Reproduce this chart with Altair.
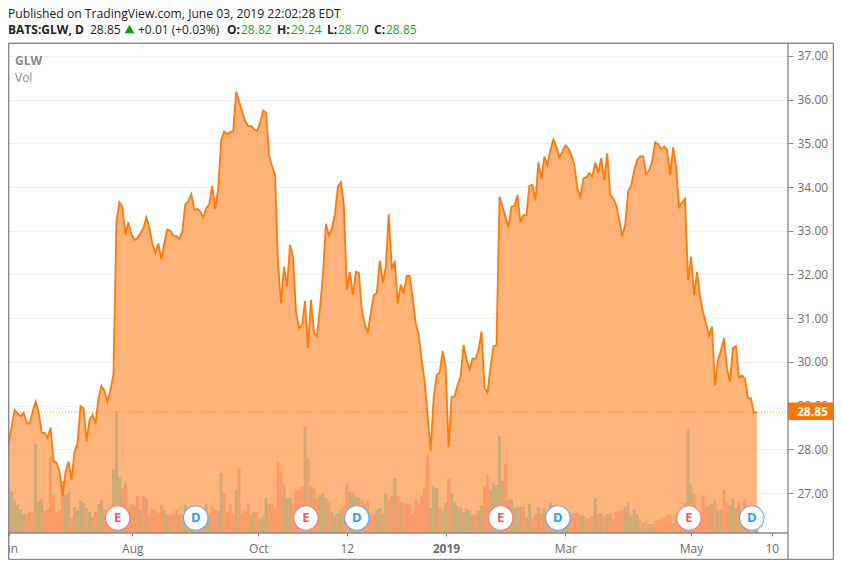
import json
import altair as alt
import pandas as pd

price = [
    27.72,28.14,28.52,28.90,28.82,28.75,28.84,28.61,28.59,28.86,
    29.09,28.86,28.38,28.37,28.27,28.50,27.73,27.69,27.49,26.92,
    27.49,27.72,27.30,27.95,28.14,28.99,28.94,28.19,28.67,28.79,
    28.59,29.17,29.45,29.34,29.09,29.36,29.70,33.21,33.65,33.55,
    32.92,33.19,32.92,32.79,32.83,32.94,33.06,33.31,33.07,32.71,
    32.50,32.71,32.35,32.71,33.03,33.00,32.89,32.88,32.81,32.98,
    33.61,33.67,33.84,33.48,33.50,33.44,33.31,33.51,33.61,34.03,
    33.50,33.97,35.08,35.27,35.21,35.26,35.27,36.18,35.95,35.73,
    35.52,35.40,35.40,35.32,35.28,35.47,35.75,35.70,34.73,34.48,
    34.26,32.25,31.34,32.18,31.72,32.68,32.41,31.15,30.78,30.83,
    31.39,30.31,31.42,30.68,30.58,31.23,31.99,33.16,32.90,33.06,
    33.38,34.01,34.11,33.59,31.65,32.06,31.53,32.06,32.04,31.19,
    30.84,30.69,31.11,31.53,31.57,32.31,31.82,32.18,33.38,32.14,
    32.28,31.34,31.77,31.57,31.97,31.97,31.46,30.88,30.62,30.04,
    29.55,28.75,27.97,29.17,29.70,29.75,30.25,29.89,28.05,29.19,
    29.21,29.47,29.66,30.39,30.04,29.83,30.08,30.07,30.27,30.69,
    29.40,29.30,29.89,30.36,30.38,33.78,33.55,33.32,33.08,33.55,
    33.57,33.82,33.19,33.36,33.36,34.03,34.05,33.69,34.57,34.19,
    34.70,34.51,34.85,35.09,34.93,34.68,34.81,34.95,34.89,34.73,
    34.51,33.97,33.78,34.20,34.22,34.32,34.24,34.56,34.33,34.66,
    34.16,34.77,33.82,33.74,33.59,33.25,32.88,33.13,33.91,34.03,
    34.38,34.62,34.70,34.70,34.30,34.38,34.58,35.02,34.98,34.87,
    34.93,34.85,34.28,34.91,34.47,33.55,33.65,33.74,31.87,32.41,
    31.53,32.06,31.49,31.15,30.88,30.60,30.81,29.47,30.04,30.27,
    30.54,29.85,29.55,30.31,30.36,29.64,29.69,29.62,29.18,29.17,28.84,28.85,
]
volume = [
    6.0,6.33,8.33,6.67,5.67,4.8,3.8,3.73,4.13,4.33,
    17.8,6.33,6.8,4.47,4.67,15.2,7.6,4.27,4.47,10.33,
    7.67,8.2,3.0,5.2,4.53,6.4,6.0,5.0,4.2,3.2,
    4.2,5.8,6.53,4.67,4.33,4.0,12.8,24.33,11.2,8.87,
    10.0,5.0,5.8,5.47,7.4,4.8,7.4,7.0,3.67,4.67,
    4.67,4.0,5.6,4.53,3.67,3.67,3.8,4.67,3.8,3.67,
    5.67,4.8,4.0,4.0,3.67,4.0,4.0,5.8,3.67,5.33,
    4.67,4.53,12.0,8.0,4.2,5.87,3.67,8.67,13.0,3.8,
    4.53,5.8,3.67,4.2,4.2,3.0,3.33,7.0,5.87,5.87,
    4.67,14.33,12.2,9.67,7.0,7.0,6.0,8.47,8.6,9.2,
    21.2,15.0,9.33,9.0,7.13,7.67,8.0,7.0,6.2,4.2,
    3.53,4.0,4.67,5.33,10.0,8.33,8.13,7.47,7.2,6.67,
    5.87,6.47,3.67,3.67,4.67,5.0,4.0,8.0,6.67,7.47,
    11.0,7.47,6.33,6.0,5.8,5.67,3.8,6.8,5.67,7.53,
    9.0,15.67,5.0,9.47,8.93,5.0,4.33,6.0,10.87,8.0,
    6.2,5.47,5.2,4.2,4.8,4.53,3.67,3.53,4.47,5.47,
    9.33,11.6,8.67,10.0,9.6,19.47,10.47,13.8,6.67,6.8,
    5.0,5.13,5.2,5.2,3.0,5.8,3.0,3.67,5.2,4.0,
    5.0,4.0,6.0,3.8,4.0,4.5,3.5,3.5,4.0,3.8,
    4.0,4.0,3.47,3.47,2.8,3.0,3.47,7.0,3.87,4.0,
    3.47,3.8,4.0,2.8,4.2,4.33,4.67,5.33,6.2,3.47,
    4.8,3.8,2.67,2.13,2.33,1.8,1.8,2.47,2.67,2.67,
    3.0,3.53,3.67,2.0,3.67,3.67,4.67,6.0,21.0,9.67,
    8.0,3.0,3.0,7.53,5.33,5.47,5.87,6.53,4.53,4.8,
    8.8,6.0,5.6,6.8,5.0,6.0,3.67,6.8,5.0,4.33,4.0,0.67,
]
direction = (
    "UUUUUUUDDD" "UUUDDDDDDD" "UUDUUUUDUU" "DUUDDDUUUD" "DDDUDUDUDD"
    "DDDUUDDDUD" "UDDUDDDUUD" "DUUDDDDUDD" "DDUUDUUUDD" "DDDUUUDDDD"
    "UDUDDUUUDU" "UUUDDUUUUD" "UDDDUUDUDD" "UDUDDDDDDD" "DDUUUDUUDU"
    "UUUUUUUDUU" "DDUUUUUDDU" "UUUDUUDDUD" "UDUDUDUUUD" "DDUUDDDUDU"
    "DUDDDDDUUU" "UUDUDUUDDD" "DDDUDDDUUU" "DDDDDDUDUU" "DDUUUDUDDDDU"
)
tick_positions = [1, 42.3, 84.4, 114, 147.1, 187, 229, 256]
tick_labels = ["Jun", "Aug", "Oct", "12", "2019", "Mar", "May", "10"]
price_ticks = [27, 28, 29, 30, 31, 32, 33, 34, 35, 36, 37]
earnings_days = [37.4, 100.3, 165.4, 228.3]
dividend_days = [63.5, 117.3, 184.5, 249.3]
last_close = 28.85

df = pd.DataFrame({"day": range(len(price)), "price": price, "volume": volume, "dir": list(direction)})
assert len(price) == len(volume) == len(direction)

W, H = 780, 490
x_scale = alt.Scale(domain=[0.768, 261.4], nice=False, zero=False, padding=0)
y_scale = alt.Scale(domain=[26.085, 37.297], nice=False, zero=False)
v_scale = alt.Scale(domain=[0, 98], nice=False, zero=False)

expr = f"{json.dumps(tick_labels)}[indexof({json.dumps(tick_positions)}, datum.value)]"
x_axis = alt.Axis(
    values=tick_positions, labelExpr=expr, title=None, grid=False, domain=False,
    tickColor="#8a8a8a", tickSize=3, labelColor="#6e6e6e", labelFont="Open Sans", labelFontSize=12,
    labelPadding=7, labelOverlap=False, labelBound=False, labelFlush=False, labelAngle=0,
    labelFontWeight={"condition": {"test": "datum.value == 147.1", "value": "bold"}, "value": "normal"},
)
y_axis = alt.Axis(
    values=price_ticks, format=".2f", orient="right", title=None, domain=False, grid=True,
    gridColor="#E9F1F8", gridWidth=1, tickColor="#8a8a8a", tickSize=5, labelColor="#6e6e6e",
    labelFont="Open Sans", labelFontSize=12, labelPadding=4, labelOverlap=False,
)
X = alt.X("day:Q", scale=x_scale, axis=x_axis)
base = alt.Chart(df)

area = base.mark_area(
    color=alt.Gradient(
        gradient="linear", x1=1, x2=1, y1=0, y2=1,
        stops=[alt.GradientStop(color="rgba(255,165,95,0.85)", offset=0),
               alt.GradientStop(color="rgba(255,178,120,0.85)", offset=1)],
    ),
    interpolate="linear", clip=True,
).encode(x=X, y=alt.Y("price:Q", scale=y_scale, axis=y_axis), y2=alt.value(H))

bars = base.mark_bar(size=3, clip=True).encode(
    x=X,
    y=alt.Y("volume:Q", scale=v_scale, axis=None),
    y2=alt.value(H),
    color=alt.Color("dir:N", scale=alt.Scale(domain=["U", "D"], range=["#CDAB76", "#FC9A69"]), legend=None),
)
line = base.mark_line(color="#FF7A0A", strokeWidth=1.8, interpolate="linear", clip=True).encode(
    x=X,
    y=alt.Y("price:Q", scale=y_scale, axis=None),
)

one = alt.Chart(pd.DataFrame({"close": [last_close]}))
last_rule = one.mark_rule(color="#FF7A0A", strokeDash=[1, 2], strokeWidth=1, opacity=0.75).encode(
    y=alt.Y("close:Q", scale=y_scale, axis=None), x=alt.value(0), x2=alt.value(W)
)

def circles(days, stroke):
    return alt.Chart(pd.DataFrame({"day": days})).mark_circle(
        size=600, fill="white", stroke=stroke, strokeWidth=1.2, opacity=1
    ).encode(x=X, y=alt.value(475))

def letters(days, letter, color):
    return alt.Chart(pd.DataFrame({"day": days})).mark_text(
        text=letter, color=color, fontSize=13, font="Open Sans", fontWeight="bold", baseline="middle"
    ).encode(x=X, y=alt.value(475))

empty = alt.Chart(pd.DataFrame({"a": [0]}))

def label(text, px, py, color="#222222", weight="normal", size=12, font="Open Sans"):
    return empty.mark_text(
        text=text, color=color, fontWeight=weight, fontSize=size, font=font, align="left", baseline="alphabetic"
    ).encode(x=alt.value(px - 8), y=alt.value(py - 43))

def rule(x1, x2, y1, y2, color="#8a8a8a", w=1.4):
    return empty.mark_rule(color=color, strokeWidth=w).encode(
        x=alt.value(x1 - 8), x2=alt.value(x2 - 8), y=alt.value(y1 - 43), y2=alt.value(y2 - 43)
    )

GREEN = "#1BA81B"
texts = [
    label("Published on TradingView.com, June 03, 2019 22:02:28 EDT", 8, 18, size=12.15),
    label("BATS:GLW, D", 8, 34, weight="bold"),
    label("28.85", 90, 34),
    label("+0.01 (+0.03%)", 138, 34),
    label("O:", 227, 34, weight="bold"),
    label("28.82", 241, 34, color=GREEN),
    label("H:", 277, 34, weight="bold"),
    label("29.24", 291, 34, color=GREEN),
    label("L:", 327, 34, weight="bold"),
    label("28.70", 338, 34, color=GREEN),
    label("C:", 374, 34, weight="bold"),
    label("28.85", 386, 34, color=GREEN),
    label("GLW", 15, 65, color="#8a8a8a", weight="bold", size=12),
    label("Vol", 15, 82, color="#8a8a8a", size=12),
]
triangle = empty.mark_point(shape="triangle-up", filled=True, color="#0B9E0B", size=95, opacity=1).encode(
    x=alt.value(129.5 - 8), y=alt.value(29 - 43)
)
price_box = empty.mark_rect(color="#FF7500").encode(
    x=alt.value(788 - 8), x2=alt.value(833.5 - 8), y=alt.value(402.5 - 43), y2=alt.value(420 - 43)
)
price_text = label("28.85", 797, 416, color="white", weight="bold", size=12)

frame = [
    rule(8.7, 833.4, 43.3, 43.3), rule(8.7, 833.4, 559.4, 559.4),
    rule(8.7, 8.7, 43.3, 559.4), rule(833.4, 833.4, 43.3, 559.4),
    rule(788, 788, 43.3, 559.4), rule(8.7, 788, 533, 533),
]

chart = alt.layer(
    area, bars, line, last_rule,
    circles(earnings_days, "#F07B84"), circles(dividend_days, "#5AB2F2"),
    letters(earnings_days, "E", "#EE5A68"), letters(dividend_days, "D", "#2C9CEF"),
    price_box, price_text, *frame, *texts, triangle,
).resolve_scale(y="independent", color="independent").properties(
    width=W, height=H,
    autosize=alt.AutoSizeParams(type="none"),
    padding={"left": 0, "top": 35, "right": 46, "bottom": 27},
    background="white",
).configure_view(stroke=None)

chart.save("out.html", embed_options={"renderer": "svg", "actions": False})
